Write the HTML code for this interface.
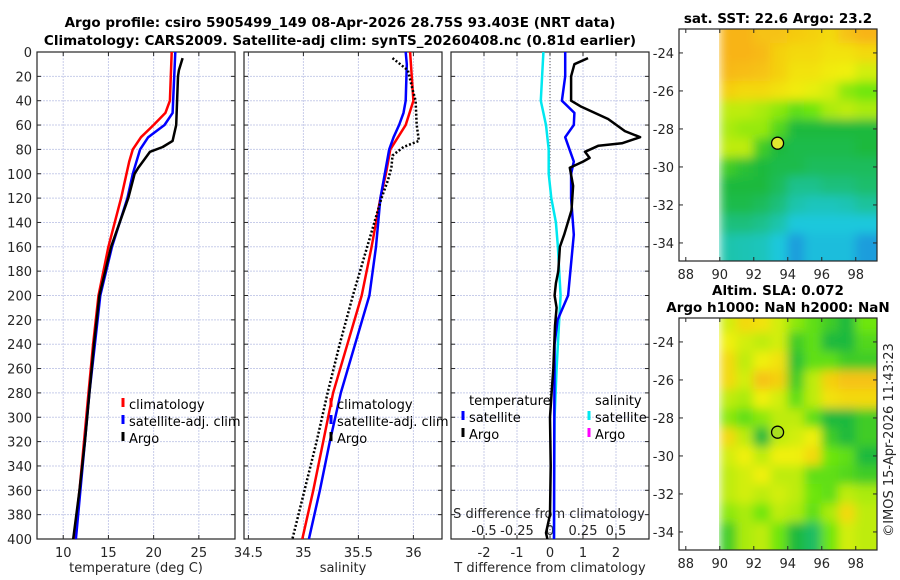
<!DOCTYPE html>
<html><head><meta charset="utf-8">
<style>
html,body{margin:0;padding:0;background:#fff;}
svg{display:block;font-family:"DejaVu Sans","Liberation Sans",sans-serif;}
.tk{font-size:13px;fill:#262626;}
.tt{font-size:13.5px;font-weight:bold;fill:#000;}
.lg{font-size:13px;fill:#000;}
</style></head>
<body>
<svg id="fig" width="900" height="580" viewBox="0 0 900 580">
<defs>
<clipPath id="c1"><rect x="37" y="52" width="198" height="487"/></clipPath>
<clipPath id="c2"><rect x="244" y="52" width="198" height="487"/></clipPath>
<clipPath id="c3"><rect x="451" y="52" width="198" height="487"/></clipPath>
<clipPath id="cm1"><rect x="719" y="29" width="158" height="232"/></clipPath>
<clipPath id="cm2"><rect x="719" y="318" width="158" height="232"/></clipPath>
<filter id="bl" x="-5%" y="-5%" width="110%" height="110%"><feGaussianBlur stdDeviation="5"/></filter>
</defs>
<g id="root"></g>
<text class="tt" x="340" y="27" text-anchor="middle">Argo profile: csiro 5905499_149 08-Apr-2026 28.75S 93.403E (NRT data)</text>
<text class="tt" x="340" y="45" text-anchor="middle">Climatology: CARS2009. Satellite-adj clim: synTS_20260408.nc (0.81d earlier)</text>
<text class="tt" x="778" y="23" text-anchor="middle">sat. SST: 22.6 Argo: 23.2</text>
<text class="tt" x="778" y="295" text-anchor="middle">Altim. SLA: 0.072</text>
<text class="tt" x="778" y="312" text-anchor="middle">Argo h1000: NaN h2000: NaN</text>
<text class="tk" x="0" y="0" transform="translate(893,440) rotate(-90)" text-anchor="middle">©IMOS 15-Apr-2026 11:43:23</text>
</svg>
<script>
const depthTicks=[0,20,40,60,80,100,120,140,160,180,200,220,240,260,280,300,320,340,360,380,400];
const tTicks=[10,15,20,25];
const sTicks=[34.5,35,35.5,36];
const dTTicks=[-2,-1,0,1,2];
const dSTicks=[-0.5,-0.25,0,0.25,0.5];
const dSTickLabels=["-0.5","-0.25","0","0.25","0.5"];

const tClimD=[0,40,50,60,70,80,90,100,120,160,200,240,280,320,360,400];
const tClimV=[22.0,21.8,21.3,20.0,18.6,17.7,17.3,17.0,16.4,15.0,13.9,13.3,12.8,12.3,11.8,11.2];
const tSatD=[0,50,60,70,80,100,120,160,200,240,280,320,360,400];
const tSatV=[22.4,22.1,21.2,19.4,18.5,17.7,17.1,15.4,14.1,13.5,12.9,12.4,11.9,11.4];
const tArgoD=[5,15,20,40,60,73,78,82,90,95,100,120,160,200,240,280,320,360,400];
const tArgoV=[23.2,22.8,22.7,22.6,22.5,22.1,21.0,19.6,18.8,18.3,17.9,17.2,15.3,14.0,13.4,12.9,12.4,11.8,11.1];

const sClimD=[0,40,60,80,100,120,160,200,240,280,320,360,400];
const sClimV=[35.97,36.0,35.93,35.79,35.75,35.70,35.62,35.53,35.40,35.27,35.18,35.09,34.99];
const sSatD=[0,10,40,50,60,70,80,100,120,160,200,240,280,320,360,400];
const sSatV=[35.93,35.94,35.93,35.91,35.87,35.82,35.78,35.74,35.70,35.66,35.60,35.47,35.34,35.24,35.15,35.05];
const sArgoD=[5,10,15,30,40,60,73,78,85,95,105,120,160,200,240,280,320,360,400];
const sArgoV=[35.81,35.88,35.95,35.99,36.02,36.03,36.05,35.91,35.81,35.80,35.77,35.71,35.58,35.45,35.33,35.22,35.12,35.01,34.90];

const dtSatD=[0,20,40,50,60,70,80,90,100,120,150,200,220,240,300,400];
const dtSatV=[0.46,0.46,0.36,0.74,0.72,0.46,0.59,0.72,0.64,0.64,0.72,0.55,0.23,0.14,0.13,0.12];
const dtArgoD=[5,10,20,40,45,55,65,70,75,77,82,87,90,95,110,130,150,160,180,190,200,210,225,260,280,300,340,380,395,400];
const dtArgoV=[1.15,0.74,0.64,0.64,0.95,1.76,2.27,2.73,2.18,1.47,1.06,1.2,1.0,0.6,0.7,0.65,0.43,0.3,0.25,0.18,0.14,0.2,0.15,0.1,0.05,0.0,0.02,0.0,-0.12,-0.08];
const dsSatD=[0,20,40,60,80,100,120,140,160,180,200,220,260,300,400];
const dsSatV=[-0.05,-0.06,-0.07,-0.03,-0.01,-0.01,0.01,0.045,0.06,0.07,0.08,0.07,0.05,0.035,0.03];

const mapLats=[-23,-24,-25,-26,-27,-28,-29,-30,-31,-32,-33,-34];
const mapLons=[90,91,92,93,94,95,96,97,98];
const sstVals=[
[.88,.88,.85,.85,.83,.82,.80,.85,.88],
[.88,.88,.87,.82,.80,.80,.78,.78,.80],
[.87,.86,.85,.82,.78,.78,.76,.75,.72],
[.82,.80,.80,.78,.76,.74,.72,.65,.62],
[.70,.70,.68,.65,.60,.62,.68,.70,.68],
[.68,.66,.66,.58,.50,.50,.50,.50,.50],
[.70,.70,.55,.50,.48,.48,.48,.48,.50],
[.55,.52,.50,.48,.48,.46,.46,.46,.46],
[.50,.50,.50,.46,.40,.40,.42,.42,.44],
[.48,.48,.46,.42,.36,.34,.34,.35,.38],
[.42,.42,.40,.36,.30,.30,.30,.30,.30],
[.36,.35,.34,.30,.22,.28,.28,.28,.22]];
const slaVals=[
[.72,.80,.78,.72,.65,.60,.55,.50,.62],
[.75,.72,.70,.72,.55,.60,.50,.50,.58],
[.80,.70,.75,.78,.52,.60,.60,.55,.55],
[.80,.72,.85,.82,.55,.70,.82,.85,.85],
[.70,.68,.75,.72,.60,.70,.78,.80,.80],
[.65,.60,.65,.70,.70,.60,.50,.50,.55],
[.80,.70,.50,.70,.72,.75,.55,.50,.55],
[.72,.75,.70,.75,.75,.80,.62,.60,.50],
[.70,.72,.75,.70,.70,.60,.60,.58,.55],
[.70,.72,.70,.72,.70,.62,.60,.70,.68],
[.65,.68,.62,.70,.68,.60,.68,.80,.70],
[.55,.68,.70,.62,.50,.45,.62,.72,.70]];
const mapLonTicks=[88,90,92,94,96,98];
const mapLatTicks=[-24,-26,-28,-30,-32,-34];
const argoLon=93.4, argoLat=-28.75;

const NS="http://www.w3.org/2000/svg";
const root=document.getElementById('root');
function mk(tag,attrs,parent){const e=document.createElementNS(NS,tag);for(const k in attrs)e.setAttribute(k,attrs[k]);(parent||root).appendChild(e);return e;}

const Y0=52,Y1=539;
const yD=d=>Y0+(d/400)*(Y1-Y0);
function lin(d0,d1,r0,r1){return v=>r0+(v-d0)/(d1-d0)*(r1-r0);}
const xT=lin(7.1,29.0,37,235);
const xS=lin(34.46,36.26,244,442);
const xdT=lin(-3,3,451,649);
const xdS=lin(-0.75,0.75,451,649);

function panel(x0,name,xs,xticks,xlab,labels){
  const g=mk('g',{});
  
  
  mk('rect',{x:x0,y:Y0,width:198,height:Y1-Y0,fill:'#fff'},g);
  depthTicks.forEach(d=>{const l=mk('line',{x1:x0,x2:x0+198,y1:yD(d),y2:yD(d),stroke:'#c8cdea','stroke-width':1,'stroke-dasharray':'2,1'},g);
    });
  xticks.forEach((t,i)=>{const x=xs(t);
    const l=mk('line',{x1:x,x2:x,y1:Y0,y2:Y1,stroke:'#c8cdea','stroke-width':1,'stroke-dasharray':'2,1'},g);
    
    mk('line',{x1:x,x2:x,y1:Y1,y2:Y1-4,stroke:'#262626'},g);mk('line',{x1:x,x2:x,y1:Y0,y2:Y0+4,stroke:'#262626'},g);
    if(labels){const tx=mk('text',{x:x,y:557,'text-anchor':'middle',class:'tk'},g);tx.textContent=labels[i];
      }
  });
  depthTicks.forEach(d=>{mk('line',{x1:x0,x2:x0+4,y1:yD(d),y2:yD(d),stroke:'#262626'},g);mk('line',{x1:x0+194,x2:x0+198,y1:yD(d),y2:yD(d),stroke:'#262626'},g);});
  mk('rect',{x:x0,y:Y0,width:198,height:Y1-Y0,fill:'none',stroke:'#262626','stroke-width':1.2},g);
  const lt=mk('text',{x:x0+99,y:572,'text-anchor':'middle',class:'tk'},g);lt.textContent=xlab;
  
  return g;
}
const g1=panel(37,'temperature-panel',xT,tTicks,'temperature (deg C)',tTicks.map(String));
const g2=panel(244,'salinity-panel',xS,sTicks,'salinity',sTicks.map(String));
const g3=panel(451,'difference-panel',xdT,dTTicks,'T difference from climatology',dTTicks.map(String));
depthTicks.forEach(d=>{const t=mk('text',{x:32,y:yD(d)+5,'text-anchor':'end',class:'tk'});t.textContent=d;
  });
const zl=mk('line',{x1:xdT(0),x2:xdT(0),y1:Y0,y2:Y1,stroke:'#555','stroke-width':1,'stroke-dasharray':'1,2'},g3);

dSTicks.forEach((t,i)=>{const tx=mk('text',{x:xdS(t),y:535,'text-anchor':'middle',class:'tk'},g3);tx.textContent=dSTickLabels[i];
  });
const sdt=mk('text',{x:549,y:518,'text-anchor':'middle',class:'tk'},g3);sdt.textContent='S difference from climatology';


function line(g,clip,D,V,xs,color,w,dash,name){
  const pts=D.map((d,i)=>xs(V[i]).toFixed(1)+','+yD(d).toFixed(1)).join(' ');
  const p=mk('polyline',{points:pts,fill:'none',stroke:color,'stroke-width':w,'clip-path':'url(#'+clip+')','stroke-linejoin':'round'},g);
  if(dash)p.setAttribute('stroke-dasharray',dash);
  
}
line(g1,'c1',tClimD,tClimV,xT,'#ff0000',2.5,null,'temp-climatology-line');
line(g1,'c1',tSatD,tSatV,xT,'#0000ff',2.5,null,'temp-satellite-adj-line');
line(g1,'c1',tArgoD,tArgoV,xT,'#000',2.5,null,'temp-argo-line');
line(g2,'c2',sClimD,sClimV,xS,'#ff0000',2.5,null,'sal-climatology-line');
line(g2,'c2',sSatD,sSatV,xS,'#0000ff',2.5,null,'sal-satellite-adj-line');
line(g2,'c2',sArgoD,sArgoV,xS,'#000',2.5,'2,2','sal-argo-line');
line(g3,'c3',dsSatD,dsSatV,xdS,'#00e8f0',2.5,null,'sdiff-satellite-line');
line(g3,'c3',dtSatD,dtSatV,xdT,'#0000ff',2.5,null,'tdiff-satellite-line');
line(g3,'c3',dtArgoD,dtArgoV,xdT,'#000',2.5,null,'tdiff-argo-line');

function legendItem(g,x,y,color,label,name){
  const it=mk('g',{},g);
  if(color)mk('line',{x1:x,x2:x,y1:y-11,y2:y-2,stroke:color,'stroke-width':3},it);
  const t=mk('text',{x:x+6,y:y,class:'lg'},it);t.textContent=label;
}
legendItem(g1,123,409,'#ff0000','climatology','legend-climatology');
legendItem(g1,123,426,'#0000ff','satellite-adj. clim','legend-satellite-adj');
legendItem(g1,123,443,'#000','Argo','legend-argo');
legendItem(g2,331,409,'#ff0000','climatology','legend-climatology');
legendItem(g2,331,426,'#0000ff','satellite-adj. clim','legend-satellite-adj');
legendItem(g2,331,443,'#000','Argo','legend-argo');
legendItem(g3,463,405,null,'temperature','legend-temperature-header');
legendItem(g3,463,422,'#0000ff','satellite','legend-t-satellite');
legendItem(g3,463,439,'#000','Argo','legend-t-argo');
legendItem(g3,589,405,null,'salinity','legend-salinity-header');
legendItem(g3,589,422,'#00e8f0','satellite','legend-s-satellite');
legendItem(g3,589,439,'#ff00ff','Argo','legend-s-argo');

const cstops=[[0,[20,40,220]],[0.3,[30,200,220]],[0.5,[30,185,60]],[0.62,[110,230,10]],[0.75,[240,240,10]],[0.88,[248,180,20]],[1,[240,60,20]]];
function cmap(v){for(let i=1;i<cstops.length;i++){if(v<=cstops[i][0]){const a=cstops[i-1],b=cstops[i];const f=(v-a[0])/(b[0]-a[0]);
  const c=a[1].map((q,k)=>Math.round(q+(b[1][k]-q)*f));return 'rgb('+c.join(',')+')';}}return 'rgb(240,60,20)';}
function mapPanel(top,vals,clip,name,dotFill){
  const g=mk('g',{});
  const mx=lin(87.6,99.25,679,877), my=lin(-22.74,-34.95,top,top+232);
  mk('rect',{x:679,y:top,width:198,height:232,fill:'#fff'},g);
  const cg=mk('g',{'clip-path':'url(#'+clip+')'},g);
  const bg=mk('g',{filter:'url(#bl)'},cg);
  mapLats.forEach((la,r)=>mapLons.forEach((lo,c)=>{
    const y0=r===0?my(-22.0):my(la+0.5), y1=r===mapLats.length-1?my(-36):my(la-0.5);
    const x0=mx(lo), x1=c===mapLons.length-1?mx(100.5):mx(lo+1);
    const cell=mk('rect',{x:x0-(c===0?0:0.5),y:y0,width:x1-x0+1,height:y1-y0+1,fill:cmap(vals[r][c])},bg);
    
  }));
  mk('rect',{x:679,y:top,width:40,height:232,fill:'#fff'},g);
  mapLonTicks.forEach(t=>{const x=mx(t);mk('line',{x1:x,x2:x,y1:top+232,y2:top+228,stroke:'#262626'},g);mk('line',{x1:x,x2:x,y1:top,y2:top+4,stroke:'#262626'},g);
    const tx=mk('text',{x:x,y:top+250,'text-anchor':'middle',class:'tk'},g);tx.textContent=t;
    });
  mapLatTicks.forEach(t=>{const y=my(t);mk('line',{x1:873,x2:877,y1:y,y2:y,stroke:'#262626'},g);mk('line',{x1:679,x2:683,y1:y,y2:y,stroke:'#262626'},g);
    const tx=mk('text',{x:674,y:y+5,'text-anchor':'end',class:'tk'},g);tx.textContent=t;
    });
  mk('rect',{x:679,y:top,width:198,height:232,fill:'none',stroke:'#262626','stroke-width':1.2},g);
  const dot=mk('circle',{cx:mx(argoLon),cy:my(argoLat),r:6,fill:dotFill,stroke:'#000','stroke-width':1.3},g);
  
}
mapPanel(29,sstVals,'cm1','sst-map','#e0e830');
mapPanel(318,slaVals,'cm2','sla-map','#a8e020');
</script>
</body></html>
